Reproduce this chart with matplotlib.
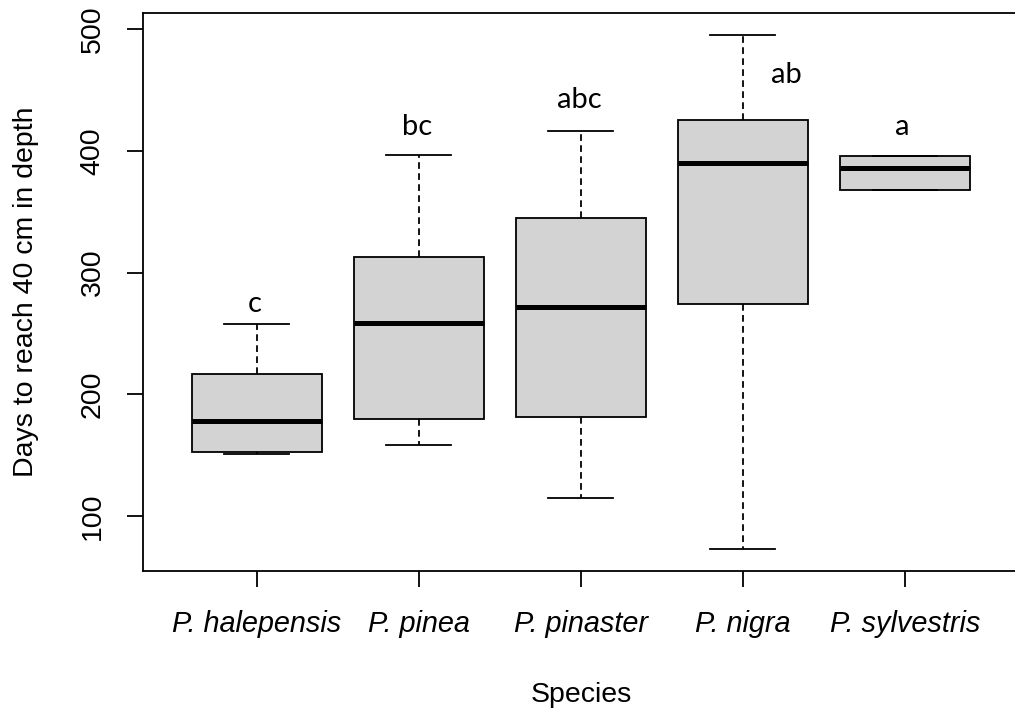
import matplotlib
matplotlib.use("Agg")
import matplotlib.pyplot as plt

# data
species = ["P. halepensis", "P. pinea", "P. pinaster", "P. nigra", "P. sylvestris"]
whisker_low = [151, 158, 115, 73, 368]
q1 = [152.5, 180, 181, 274, 368]
median = [178, 259, 272, 390, 386]
q3 = [217, 313, 345, 425, 396]
whisker_high = [258, 397, 416, 495, 396]
yticks = [100, 200, 300, 400, 500]

# significance letters and where they sit
letters = ["c", "bc", "abc", "ab", "a"]
letter_x = [0.99, 1.99, 2.99, 4.27, 4.98]
letter_y = [268, 413, 435, 456, 413]

LW = 1.3
plt.rcParams["font.family"] = ["Liberation Sans", "DejaVu Sans"]

fig = plt.figure(figsize=(10.15, 7.18), dpi=100)
ax = fig.add_axes([0.1411, 0.2047, 0.8623, 0.7768])

stats = []
for i, name in enumerate(species):
    stats.append(dict(label=name, whislo=whisker_low[i], q1=q1[i], med=median[i],
                      q3=q3[i], whishi=whisker_high[i], fliers=[]))

positions = list(range(1, len(species) + 1))
ax.bxp(stats, positions=positions, widths=0.8, capwidths=0.4,
       patch_artist=True, showfliers=False,
       boxprops=dict(facecolor="#d3d3d3", edgecolor="black", linewidth=LW),
       medianprops=dict(color="black", linewidth=3.6, solid_capstyle="butt"),
       whiskerprops=dict(color="black", linewidth=LW, linestyle=(0, (3.7, 2.4))),
       capprops=dict(color="black", linewidth=LW))

for x, y, s in zip(letter_x, letter_y, letters):
    ax.text(x, y, s, ha="center", va="baseline", fontsize=21,
            family=["Lato", "DejaVu Sans"])

ax.set_xlim(0.3, 5.7)
ax.set_ylim(54.8, 513.1)
ax.set_xticks(positions)
ax.set_xticklabels(species, fontsize=20.8, style="italic")
ax.set_yticks(yticks)
ax.set_yticklabels([str(v) for v in yticks], fontsize=20.5, rotation=90, va="center")

for sp in ax.spines.values():
    sp.set_linewidth(LW)
    sp.set_color("black")
ax.tick_params(axis="both", length=11.5, width=LW, color="black")
ax.tick_params(axis="x", pad=16.5)
ax.tick_params(axis="y", pad=15.5)

ax.set_xlabel("Species", fontsize=20.5)
ax.xaxis.set_label_coords(0.5, -0.199)
ax.set_ylabel("Days to reach 40 cm in depth", fontsize=20.5)
ax.yaxis.set_label_coords(-0.1186, 0.5)

fig.savefig("out.png", dpi=100)
